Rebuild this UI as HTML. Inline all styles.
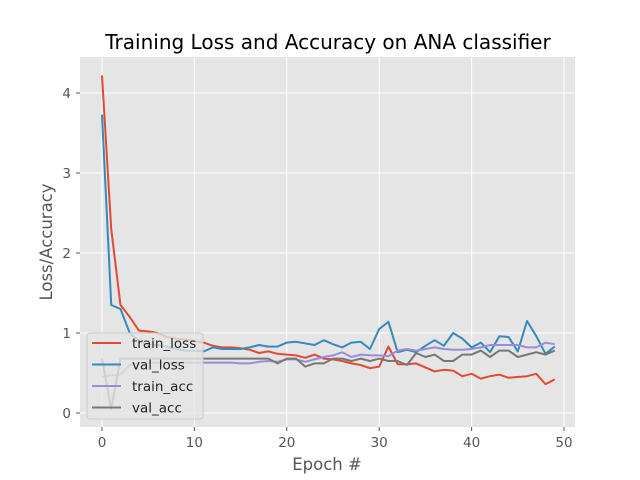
<!DOCTYPE html>
<html><head><meta charset="utf-8"><style>body{margin:0;background:#fff}svg{display:block;font-family:"DejaVu Sans","Liberation Sans",sans-serif}</style></head>
<body>
<svg id="c" width="640" height="480"></svg>
<script>
const epochs=[...Array(50).keys()];
const trainLoss=[4.22,2.3,1.35,1.2,1.03,1.02,1.0,0.95,0.93,0.92,0.9,0.88,0.84,0.82,0.82,0.81,0.79,0.75,0.77,0.74,0.73,0.72,0.69,0.73,0.68,0.67,0.65,0.62,0.6,0.56,0.58,0.83,0.61,0.61,0.62,0.57,0.52,0.54,0.53,0.46,0.49,0.43,0.46,0.48,0.44,0.45,0.46,0.49,0.36,0.42];
const valLoss=[3.73,1.35,1.3,1.0,0.9,0.85,0.85,0.83,0.8,0.78,0.78,0.77,0.82,0.8,0.8,0.8,0.82,0.85,0.83,0.83,0.88,0.89,0.87,0.85,0.91,0.86,0.82,0.88,0.89,0.8,1.05,1.14,0.76,0.79,0.76,0.84,0.91,0.84,1.0,0.93,0.82,0.88,0.76,0.96,0.95,0.77,1.15,0.96,0.74,0.83];
const trainAcc=[0.45,0.47,0.48,0.6,0.62,0.63,0.63,0.63,0.63,0.63,0.63,0.63,0.63,0.63,0.63,0.62,0.62,0.64,0.65,0.64,0.67,0.67,0.64,0.67,0.7,0.72,0.76,0.7,0.73,0.72,0.72,0.71,0.78,0.8,0.78,0.8,0.82,0.8,0.79,0.79,0.8,0.82,0.85,0.85,0.85,0.85,0.82,0.82,0.88,0.86];
const valAcc=[0.68,0.05,0.68,0.68,0.68,0.68,0.68,0.68,0.68,0.68,0.68,0.68,0.68,0.68,0.68,0.68,0.68,0.68,0.68,0.62,0.68,0.68,0.58,0.62,0.62,0.68,0.68,0.65,0.68,0.65,0.68,0.65,0.65,0.6,0.75,0.7,0.73,0.65,0.65,0.73,0.73,0.78,0.7,0.78,0.78,0.7,0.73,0.76,0.73,0.78];
const xTicks=[0,10,20,30,40,50];
const yTicks=[0,1,2,3,4];
const seriesNames=["train_loss","val_loss","train_acc","val_acc"];

const NS="http://www.w3.org/2000/svg",svg=document.getElementById('c');
const X=v=>102+v*9.24, Y=v=>413-v*80;
function mk(t,a,p){const e=document.createElementNS(NS,t);for(const k in a)e.setAttribute(k,a[k]);(p||svg).appendChild(e);return e;}
const bg=mk('rect',{x:80,y:57,width:495,height:370,fill:'#E5E5E5'});


xTicks.forEach(t=>{
 const l=mk('line',{x1:X(t),x2:X(t),y1:57,y2:427,stroke:'#fff','stroke-width':1});
 
 
 mk('line',{x1:X(t),x2:X(t),y1:427,y2:431,stroke:'#555'});
 const tx=mk('text',{x:X(t),y:447,'text-anchor':'middle','font-size':13.5,fill:'#555'});tx.textContent=t;
 
 
});
yTicks.forEach(t=>{
 const l=mk('line',{x1:80,x2:575,y1:Y(t),y2:Y(t),stroke:'#fff','stroke-width':1});
 
 
 mk('line',{x1:76,x2:80,y1:Y(t),y2:Y(t),stroke:'#555'});
 const tx=mk('text',{x:71,y:Y(t)+5,'text-anchor':'end','font-size':13.5,fill:'#555'});tx.textContent=t;
 
 
});
const colors=['#E24A33','#348ABD','#988ED5','#777777'];
[trainLoss,valLoss,trainAcc,valAcc].forEach((s,i)=>{
 const p=mk('polyline',{points:s.map((v,j)=>X(epochs[j])+','+Y(v)).join(' '),fill:'none',stroke:colors[i],'stroke-width':2,'stroke-linejoin':'round'});
 
 
});
const lg=mk('g',{});


mk('rect',{x:87,y:333,width:116,height:86,rx:3,fill:'#E5E5E5','fill-opacity':0.8,stroke:'#ccc'},lg);
seriesNames.forEach((n,i)=>{
 const y=343+i*21.5;
 mk('line',{x1:92,x2:121,y1:y,y2:y,stroke:colors[i],'stroke-width':2},lg);
 const t=mk('text',{x:132,y:y+5,'font-size':13.5,fill:'#222'},lg);t.textContent=n;
 
 
});
const ti=mk('text',{x:328,y:49,'text-anchor':'middle','font-size':20,fill:'#000'});ti.textContent='Training Loss and Accuracy on ANA classifier';


const xl=mk('text',{x:327,y:470,'text-anchor':'middle','font-size':16.5,fill:'#555'});xl.textContent='Epoch #';


const yl=mk('text',{x:52,y:242,'text-anchor':'middle','font-size':16.5,fill:'#555',transform:'rotate(-90 52 242)'});yl.textContent='Loss/Accuracy';


</script>
</body></html>
